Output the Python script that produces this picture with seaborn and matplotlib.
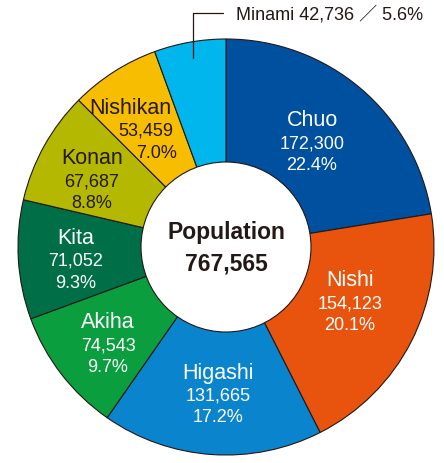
"""
Donut chart of population by ward.
"""
import matplotlib
matplotlib.use("Agg")
import matplotlib.pyplot as plt
import seaborn as sns

wards = ["Chuo", "Nishi", "Higashi", "Akiha", "Kita", "Konan", "Nishikan", "Minami"]
population = [172300, 154123, 131665, 74543, 71052, 67687, 53459, 42736]
shares = ["22.4%", "20.1%", "17.2%", "9.7%", "9.3%", "8.8%", "7.0%", "5.6%"]
total_label = "767,565"

colors = ["#0050a0", "#e8540e", "#0a84cc", "#0a9e3e", "#006f48",
          "#b5b800", "#f7bd00", "#00b6ec"]
text_colors = ["white", "white", "white", "white", "white", "#231815", "#231815", "#231815"]
dark = "#231815"

sns.set_theme(style="white")
plt.rcParams["font.family"] = ["Liberation Sans", "Noto Sans CJK JP", "DejaVu Sans"]

W, H = 444, 463
fig = plt.figure(figsize=(W / 100, H / 100), dpi=100)
ax = fig.add_axes([0, 0, 1, 1])


def py(y):
    # pixel row (from top) -> data y (from bottom)
    return H - y


cx, cy, R, r_in = 226, py(247), 208, 85
ax.pie(population, colors=colors, startangle=90, counterclock=False,
       radius=R, center=(cx, cy), frame=True,
       wedgeprops=dict(edgecolor=dark, linewidth=0.8))
ax.set_xlim(0, W)
ax.set_ylim(0, H)
ax.set_aspect("equal")
ax.axis("off")

ax.add_patch(plt.Circle((cx, cy), r_in, facecolor="white", edgecolor=dark,
                        linewidth=0.8, zorder=3))

# label anchors (pixel x, pixel row of the number line), picked by hand
label_pos = {
    "Chuo": (312, 144), "Nishi": (350, 304), "Higashi": (218, 396),
    "Akiha": (108, 346), "Kita": (76, 261), "Konan": (92, 182),
    "Nishikan": (174, 131),
}
for i, (name, val, pct) in enumerate(zip(wards, population, shares)):
    if name not in label_pos:
        continue
    x, y = label_pos[name]
    c = text_colors[i]
    ha = "right" if name == "Nishikan" else "center"
    xs = [x - 3, x - 1, x + 3] if name == "Nishikan" else [x, x, x]
    ax.text(xs[0], py(y - 23), name, ha=ha, va="center", fontsize=15.5, color=c, zorder=4)
    ax.text(xs[1], py(y), f"{val:,}", ha=ha, va="center", fontsize=13, color=c, zorder=4)
    ax.text(xs[2], py(y + 22), pct, ha=ha, va="center", fontsize=13, color=c, zorder=4)

ax.text(cx, py(233), "Population", ha="center", va="center", fontsize=16.5,
        fontweight="bold", color=dark, zorder=4)
ax.text(cx, py(264), total_label, ha="center", va="center", fontsize=16.5,
        fontweight="bold", color=dark, zorder=4)

# Minami callout
ax.plot([193, 193, 223], [py(58), py(13), py(13)], color=dark, linewidth=0.9, zorder=4)
ax.text(236, py(15), f"Minami {population[-1]:,} ／ {shares[-1]}", ha="left", va="center",
        fontsize=13, color=dark, zorder=4)

fig.savefig("out.png", dpi=100)
